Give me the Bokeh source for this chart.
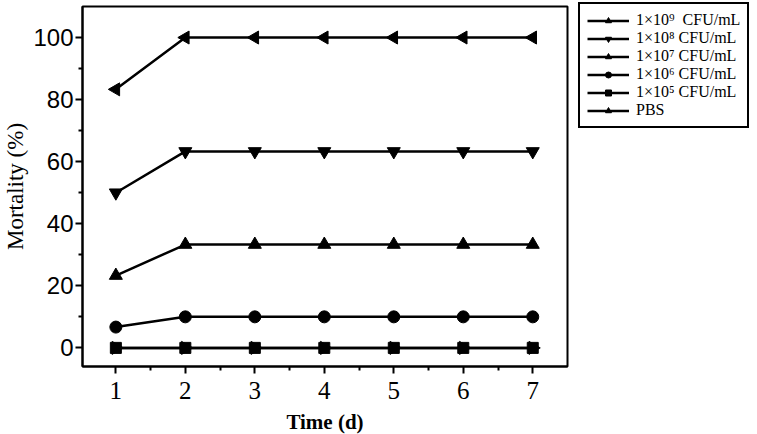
import numpy as np
from bokeh.plotting import figure
from bokeh.models import Legend, LegendItem, Range1d, FixedTicker
from bokeh.embed import file_html
from bokeh.resources import INLINE

days = [1, 2, 3, 4, 5, 6, 7]
labels = ["1×10⁹  CFU/mL", "1×10⁸ CFU/mL", "1×10⁷ CFU/mL",
          "1×10⁶ CFU/mL", "1×10⁵ CFU/mL", "PBS"]
mort_1e9 = [83.3, 100, 100, 100, 100, 100, 100]
mort_1e8 = [50.0, 63.3, 63.3, 63.3, 63.3, 63.3, 63.3]
mort_1e7 = [23.3, 33.3, 33.3, 33.3, 33.3, 33.3, 33.3]
mort_1e6 = [6.7, 10, 10, 10, 10, 10, 10]
mort_1e5 = [0, 0, 0, 0, 0, 0, 0]
mort_pbs = [0, 0, 0, 0, 0, 0, 0]
series = [mort_1e9, mort_1e8, mort_1e7, mort_1e6, mort_1e5, mort_pbs]
y_ticks = [0, 20, 40, 60, 80, 100]

markers = [("triangle", np.pi / 2), ("inverted_triangle", 0), ("triangle", 0),
           ("circle", 0), ("square", 0), ("triangle", -np.pi / 2)]
sizes = [13, 13, 13, 12, 11, 13]

p = figure(frame_width=485, frame_height=360, output_backend="svg", toolbar_location=None,
           x_range=Range1d(0.52, 7.5), y_range=Range1d(-6, 110),
           min_border_left=73, min_border_top=6, min_border_bottom=40, min_border_right=190)
p.background_fill_color = "white"
p.border_fill_color = "white"
p.outline_line_color = "black"
p.outline_line_width = 2
p.xgrid.visible = False
p.ygrid.visible = False

items = []
for lab, ys, (mk, ang), sz in zip(labels, series, markers, sizes):
    lr = p.line(days, ys, line_color="black", line_width=2.5)
    sr = p.scatter(days, ys, marker=mk, angle=ang, size=sz,
                   fill_color="black", line_color="black")
    items.append(LegendItem(label=lab, renderers=[lr, sr]))

legend = Legend(items=items, location=(11, 238))
legend.label_text_font = "Liberation Serif"
legend.label_text_font_size = "16px"
legend.label_text_color = "black"
legend.glyph_width = 42
legend.glyph_height = 15
legend.label_height = 15
legend.label_standoff = 7
legend.spacing = 0
legend.padding = 7
legend.margin = 0
legend.border_line_color = "black"
legend.border_line_width = 2
legend.border_line_alpha = 1
legend.background_fill_alpha = 1
p.add_layout(legend, "right")

for ax in (p.xaxis[0], p.yaxis[0]):
    ax.axis_line_width = 2
    ax.axis_line_color = "black"
    ax.major_tick_line_width = 2
    ax.minor_tick_line_width = 2
    ax.major_tick_out = 7
    ax.major_tick_in = 0
    ax.minor_tick_out = 4
    ax.minor_tick_in = 0
    ax.major_label_text_color = "black"
    ax.axis_label_text_color = "black"

p.xaxis.ticker = FixedTicker(ticks=days, minor_ticks=[1.5, 2.5, 3.5, 4.5, 5.5, 6.5])
p.yaxis.ticker = FixedTicker(ticks=y_ticks, minor_ticks=[10, 30, 50, 70, 90])

p.xaxis.major_label_text_font = "Liberation Serif"
p.xaxis.major_label_text_font_size = "25px"
p.xaxis.axis_label = "Time (d)"
p.xaxis.axis_label_text_font = "Liberation Serif"
p.xaxis.axis_label_text_font_style = "bold"
p.xaxis.axis_label_text_font_size = "21px"
p.xaxis.axis_label_standoff = 8
p.xaxis.major_label_standoff = 8

p.yaxis.major_label_text_font = "Liberation Sans"
p.yaxis.major_label_text_font_size = "24px"
p.yaxis.axis_label = "Mortality (%)"
p.yaxis.axis_label_text_font = "Liberation Serif"
p.yaxis.axis_label_text_font_style = "normal"
p.yaxis.axis_label_text_font_size = "23px"
p.yaxis.axis_label_standoff = 2
p.yaxis.major_label_standoff = 2

open("out.html", "w").write(file_html(p, INLINE))
